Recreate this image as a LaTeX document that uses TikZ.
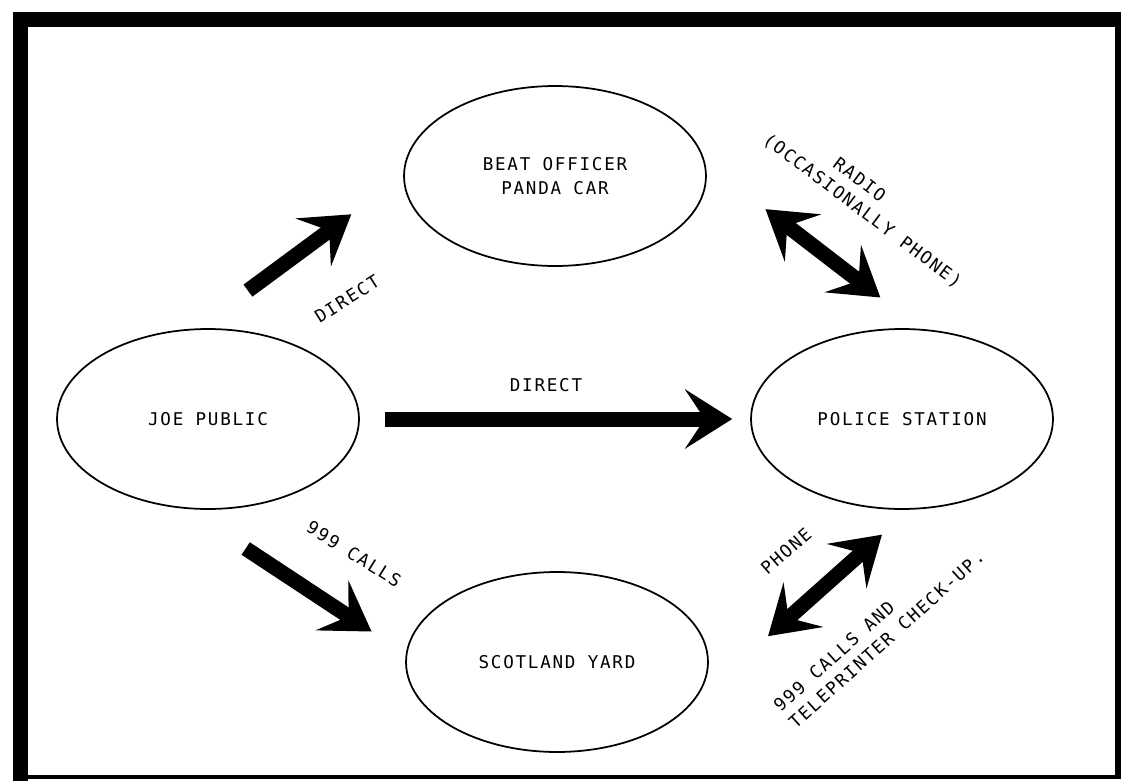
\documentclass[tikz,border=0pt]{standalone}
\usepackage{fontspec}
\newfontfamily\typewriter{DejaVu Sans Mono}[LetterSpace=10]
\usetikzlibrary{shapes,arrows.meta,positioning}

\tikzset{
    place/.style={ellipse, draw, line width=1pt, minimum width=6.04cm, minimum height=3.6cm,
        align=center, font=\typewriter\fontsize{10}{14}\selectfont},
    lbl/.style={inner sep=0pt, font=\typewriter\fontsize{10}{13}\selectfont},
    fat/.tip={Stealth[length=0.95cm, width=1.2cm, inset=0.4cm, line width=0pt]},
    bigarrow/.style={line width=0.3cm, -fat},
    bigboth/.style={line width=0.3cm, fat-fat}
}

\begin{document}
\begin{tikzpicture}[x=0.02cm, y=-0.02cm]
        \useasboundingbox (0,0) rectangle (1123,781);

        % frame
        \fill (13,12) rectangle (1121,27);
        \fill (13,12) rectangle (28,781);
        \fill (1115,12) rectangle (1121,777);
        \fill (13,775) rectangle (1121,779);

        % places
        \node[place] (joe) at (208,419) {JOE PUBLIC};
        \node[place] (beat) at (555,176) {BEAT OFFICER\\PANDA CAR};
        \node[place] (station) at (902,419) {POLICE STATION};
        \node[place] (yard) at (557,662) {SCOTLAND YARD};

        % links
        \draw[bigarrow, shorten <=1.27cm, shorten >=1.29cm] (joe.97.6) -- (beat.180);
        \draw[bigarrow, shorten <=0.5cm, shorten >=0.36cm] (joe) -- (station);
        \draw[bigarrow, shorten <=1.44cm, shorten >=0.82cm] (joe.256.7) -- (yard.177.2);
        \draw[bigboth, shorten <=1.52cm, shorten >=1.03cm] (beat.5.3) -- (station.78.1);
        \draw[bigboth, shorten <=0.75cm, shorten >=2.08cm] (station.275) -- (yard.342);

        % labels
        \node[lbl, rotate=32] (direct1) at (347,299) {DIRECT};
        \node[lbl] (direct2) at (546,385) {DIRECT};
        \node[lbl, rotate=-32] (calls) at (354,554) {999 CALLS};
        \node[lbl, rotate=-37, align=center] (radio) at (869,202)
            {RADIO\hspace*{0.84cm}\\(OCCASIONALLY PHONE)};
        \node[lbl, rotate=41] (phone) at (786,551) {PHONE};
        \node[lbl, rotate=42, align=left] (tele) at (879,631)
            {999 CALLS AND\\TELEPRINTER CHECK-UP.};
    \end{tikzpicture}
\end{document}
